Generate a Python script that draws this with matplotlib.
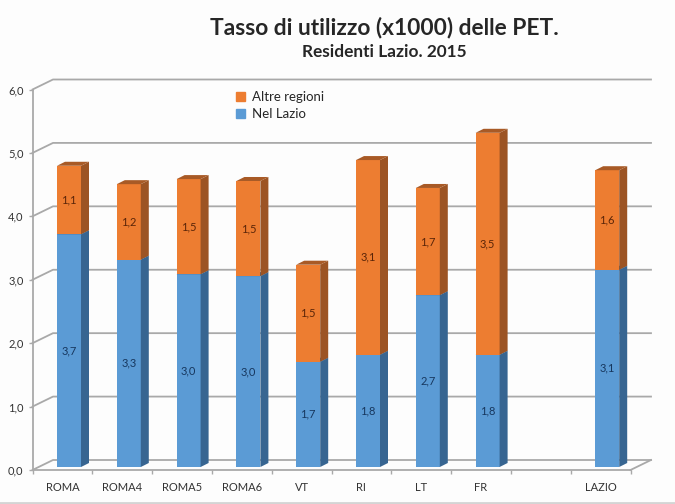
import numpy as np
import matplotlib
matplotlib.use("Agg")
import matplotlib.pyplot as plt
from matplotlib.patches import Polygon, Patch

plt.rcParams["font.family"] = ["Lato", "DejaVu Sans"]

# 9th slot is empty in the original (gap before LAZIO)
categories = ["ROMA", "ROMA4", "ROMA5", "ROMA6", "VT", "RI", "LT", "FR", "", "LAZIO"]
nel_lazio = [3.67, 3.27, 3.04, 3.01, 1.66, 1.77, 2.71, 1.77, None, 3.11]
altre_regioni = [1.08, 1.19, 1.50, 1.50, 1.53, 3.07, 1.69, 3.50, None, 1.57]
y_ticks = [0, 1, 2, 3, 4, 5, 6]

W, H = 675, 504
GREY = "#a9a9a9"

fig = plt.figure(figsize=(W / 100, H / 100), dpi=100, facecolor="#fdfdfd")
# left, right, top, bottom of the front plane in pixels
L, R, T, B = 32.5, 630.5, 89.5, 470
ax = fig.add_axes([L / W, 1 - B / H, (R - L) / W, (B - T) / H])
ax.set_xlim(-0.5, 9.5)
ax.set_ylim(0, 6)
ax.patch.set_alpha(0)

px_x = 10 / (R - L)
px_y = 6 / (B - T)

# back wall and floor
wall_dx, wall_dy = 20.5 * px_x, 10 * px_y
for v in y_ticks:
    ax.plot([-0.5, -0.5 + wall_dx, 9.5 + wall_dx], [v, v + wall_dy, v + wall_dy],
            color=GREY, lw=1.3, clip_on=False, zorder=1)
ax.plot([9.5, 9.5 + wall_dx], [0, wall_dy], color=GREY, lw=1.3, clip_on=False, zorder=1)

# 3d bars
off_x, off_y = 6.6 * px_x, 3 * px_y
bw = 24 * px_x
dep_x, dep_y = 8 * px_x, 4 * px_y


def draw_bar(x, bottom, height, front, side, top):
    x0 = x + off_x - bw / 2
    x1 = x0 + bw
    y0 = bottom
    y1 = bottom + height
    ax.bar(x + off_x, height, width=bw, bottom=bottom, color=front, zorder=3, clip_on=False)
    ax.add_patch(Polygon([(x1, y0), (x1 + dep_x, y0 + dep_y), (x1 + dep_x, y1 + dep_y), (x1, y1)],
                         closed=True, fc=side, ec="none", zorder=3, clip_on=False))
    ax.add_patch(Polygon([(x0, y1), (x1, y1), (x1 + dep_x, y1 + dep_y), (x0 + dep_x, y1 + dep_y)],
                         closed=True, fc=top, ec="none", zorder=3, clip_on=False))


def fmt(v):
    return f"{v:.1f}".replace(".", ",")


for i in range(len(categories)):
    if nel_lazio[i] is None:
        continue
    a = nel_lazio[i]
    b = altre_regioni[i]
    draw_bar(i, off_y, a, "#5b9bd5", "#376591", "#376591")
    draw_bar(i, off_y + a, b, "#ed7d31", "#9c5424", "#a85a26")
    ax.text(i + off_x, off_y + a / 2, fmt(a), ha="center", va="center",
            fontsize=8, color="#17375e", zorder=4)
    ax.text(i + off_x, off_y + a + b / 2, fmt(b), ha="center", va="center",
            fontsize=8, color="#5a2508", zorder=4)

# axes
for s in ["top", "right"]:
    ax.spines[s].set_visible(False)
for s in ["left", "bottom"]:
    ax.spines[s].set_color(GREY)
    ax.spines[s].set_linewidth(1.3)
ax.set_yticks(y_ticks)
ax.set_yticklabels([fmt(v) for v in y_ticks], fontsize=8, color="#333333")
ax.set_xticks(np.arange(len(categories)))
ax.set_xticklabels(categories, fontsize=8, color="#333333")
ax.set_xticks(np.arange(-0.5, 10, 1), minor=True)
ax.tick_params(axis="x", which="major", length=0, pad=8.5)
ax.tick_params(axis="x", which="minor", length=3, color=GREY, width=1)
ax.tick_params(axis="y", length=3, color=GREY, width=1, pad=3.5)

handles = [Patch(color="#ed7d31", label="Altre regioni"),
           Patch(color="#5b9bd5", label="Nel Lazio")]
ax.legend(handles=handles, loc="upper left", bbox_to_anchor=(236 / W, 1 - 91 / H),
          bbox_transform=fig.transFigure, frameon=False, fontsize=9.5,
          handlelength=0.7, handleheight=0.7, handletextpad=0.5,
          labelspacing=0.4, borderpad=0, borderaxespad=0, labelcolor="#262626")

fig.text(384 / W, 1 - 27 / H, "Tasso di utilizzo (x1000) delle PET.", ha="center", va="center",
         fontsize=16.4, fontweight="bold", color="#262626")
fig.text(384 / W, 1 - 52 / H, "Residenti Lazio. 2015", ha="center", va="center",
         fontsize=12.4, fontweight="bold", color="#262626")

# slide border
fig.add_artist(plt.Line2D([0, 1], [1 - 502.5 / H] * 2, color="#d4d4d4", lw=2))

fig.savefig("out.png", dpi=100, facecolor=fig.get_facecolor())
